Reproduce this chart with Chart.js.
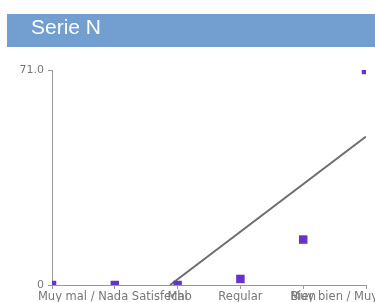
<!DOCTYPE html>
<html><head><meta charset="utf-8">
<script src="https://cdn.jsdelivr.net/npm/chart.js@4"></script>
<style>html,body{margin:0;padding:0;background:#fff;overflow:hidden}</style>
</head><body>
<canvas id="c" width="375" height="302"></canvas>
<script>
const titleText = "Serie N";
const categories = ["", "Muy mal / Nada Satisfecho", "Mal", "Regular", "Bien", "Muy bien / Muy Satisfecho"];
const values = [0, 0, 0, 2, 15, 71];
const trendX = [1.88, 5];
const trendY = [0, 49];
const yTicks = [0, 71];
const yTickLabels = ["0", "71.0"];

const banner = {
  id: 'banner',
  beforeDraw(chart) {
    const ctx = chart.ctx;
    ctx.save();
    ctx.fillStyle = '#729fcf';
    ctx.fillRect(7, 14, 368, 33);
    ctx.fillStyle = '#ffffff';
    ctx.font = '21px "Liberation Sans", Arial, sans-serif';
    ctx.textBaseline = 'alphabetic';
    ctx.textAlign = 'left';
    ctx.fillText(titleText, 31, 34);
    ctx.restore();
  }
};

new Chart(document.getElementById('c'), {
  type: 'scatter',
  data: {
    datasets: [
      {
        label: titleText,
        data: values.map((v, i) => ({x: i, y: v})),
        pointStyle: 'rect',
        pointRadius: 6,
        pointHoverRadius: 6,
        backgroundColor: '#6633cc',
        borderColor: '#6633cc',
        borderWidth: 0,
        clip: 0,
        showLine: false,
        order: 0
      },
      {
        label: 'Tendencia',
        data: trendX.map((x, i) => ({x: x, y: trendY[i]})),
        showLine: true,
        borderColor: '#6e6e6e',
        borderWidth: 2,
        pointRadius: 0,
        pointHoverRadius: 0,
        clip: 0,
        order: 1
      }
    ]
  },
  options: {
    responsive: false,
    animation: false,
    devicePixelRatio: 1,
    layout: {padding: {top: 70, right: 9, left: 0, bottom: 0}},
    plugins: {legend: {display: false}, tooltip: {enabled: false}, title: {display: false}},
    scales: {
      x: {
        type: 'linear', min: 0, max: 5,
        afterBuildTicks: s => { s.ticks = categories.map((_, i) => ({value: i})); },
        afterFit: s => { s.height = 17; s.paddingLeft = 0; s.paddingRight = 0; },
        ticks: {
          autoSkip: false, maxRotation: 0, minRotation: 0, padding: 1,
          color: '#777777',
          font: {family: '"DejaVu Sans", sans-serif', size: 11.5},
          callback: v => categories[v]
        },
        grid: {drawOnChartArea: false, drawTicks: true, tickLength: 4, color: '#999999'},
        border: {display: true, color: '#999999', width: 1}
      },
      y: {
        min: 0, max: 71,
        afterBuildTicks: s => { s.ticks = yTicks.map(v => ({value: v})); },
        afterFit: s => { s.width = 52; s.paddingTop = 0; s.paddingBottom = 0; },
        ticks: {
          padding: 4, color: '#777777',
          font: {family: '"DejaVu Sans", sans-serif', size: 11},
          callback: v => yTickLabels[yTicks.indexOf(v)]
        },
        grid: {drawOnChartArea: false, drawTicks: true, tickLength: 4, color: '#999999'},
        border: {display: true, color: '#999999', width: 1}
      }
    }
  },
  plugins: [banner]
});
</script>
</body></html>
